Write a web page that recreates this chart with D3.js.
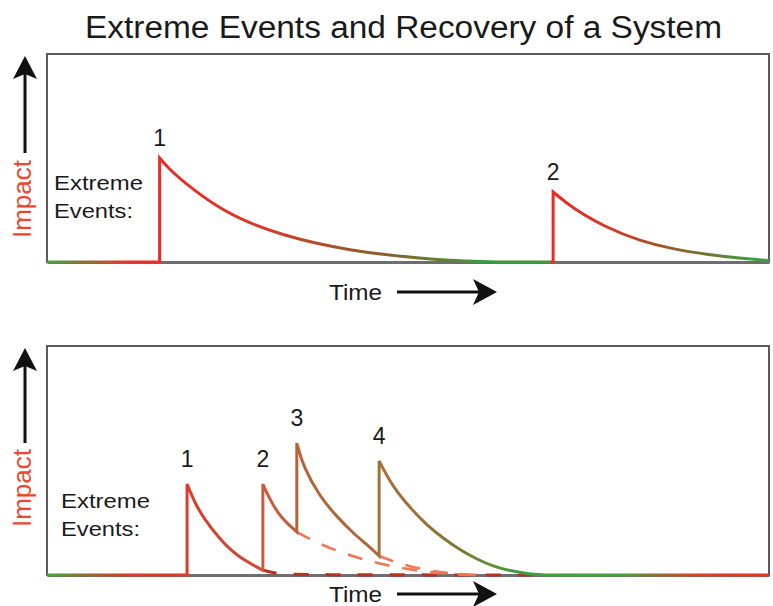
<!DOCTYPE html>
<html>
<head>
<meta charset="utf-8">
<script src="https://cdn.jsdelivr.net/npm/d3@7"></script>
<style>
  html, body { margin: 0; padding: 0; background: #fff; }
  svg { display: block; font-family: "Liberation Sans", Arial, Helvetica, sans-serif; }
</style>
</head>
<body>
<svg id="chart" width="773" height="606"></svg>
<script>
// ---------------- DATA (time 0..100, impact 0..100) ----------------
const title = "Extreme Events and Recovery of a System";
const axisLabelY = "Impact";
const axisLabelX = "Time";
const eventsLabel = ["Extreme", "Events:"];

// Top panel: two isolated events, each with its recovery (decay) curve
const topEventLabels = ["1", "2"];
const topDecays = [
  [[15.6, 50], [17.0, 44.5], [18.8, 38.8], [23.5, 26.4], [28.1, 18.5], [32.7, 13], [37.4, 8.8],
   [42.0, 5.8], [46.5, 3.6], [51.2, 2.0], [55.8, 0.8], [60.4, 0.1], [63, 0]],
  [[70.1, 33.7], [72.9, 25.5], [77.6, 16.3], [82.1, 10.2], [86.7, 6.2], [91.4, 3.6], [96.0, 1.8], [100, 0.7]]
];

// Bottom panel: four clustered events
const bottomEventLabels = ["1", "2", "3", "4"];
const bottomDecays = [
  [[19.4, 39.7], [20.5, 31.4], [21.6, 25.3], [24.0, 15.3], [26.3, 8.2], [29.8, 2.2]],
  [[29.9, 39.7], [30.9, 32.8], [32.3, 25.3], [34.6, 18.8]],
  [[34.6, 57.6], [35.5, 47.2], [37.8, 34.1], [40.2, 25.3], [42.4, 18.3], [44.7, 12.2], [46.0, 8.3]],
  [[46.0, 49.8], [47.9, 38.4], [50.3, 29.3], [52.6, 21.8], [54.8, 16.2], [57.2, 10.9], [59.6, 6.8],
   [61.8, 3.8], [64.1, 1.8], [66.5, 0.6], [69.0, 0]]
];
// What would have happened without the following event (dashed)
const bottomGhostBase = [[29.8, 2.2], [31.6, 0.7], [33.7, 0], [69.0, 0]];
const bottomGhost2 = [[34.6, 18.8], [37.4, 14], [40.6, 10], [44.0, 6.6], [47.5, 3.9], [51.7, 1.7], [55.8, 0.4], [58, 0]];
const bottomGhost3 = [[46.0, 8.3], [48.9, 4.8], [53.0, 1.7], [57.2, 0.3], [60, 0]];

// Colour along time (impact colour: green = recovered, red = impacted)
const topColorStops = [
  [0, "#3fa83f"], [6, "#9a6a30"], [11, "#e0382a"], [15.6, "#ee2a24"], [30, "#d83a28"],
  [40, "#a8522a"], [47, "#86602c"], [53, "#6a7a30"], [60, "#3c9a3c"], [69.6, "#3c9a3c"],
  [69.8, "#ee2a24"], [79, "#d03a28"], [86, "#9a5a2a"], [92, "#6a7a30"], [98, "#3ea03e"], [100, "#3ea03e"]
];
const bottomColorStops = [
  [0, "#3fa83f"], [6, "#9a6a30"], [11, "#dc3a2a"], [19.4, "#de3a2a"], [29.5, "#d04a32"],
  [29.7, "#cc5a3c"], [34.3, "#c25c3a"], [34.5, "#b8623a"], [45.7, "#aa6a38"], [45.9, "#a6703c"],
  [52, "#9a7036"], [57, "#7e7c34"], [62, "#5a9038"], [67, "#3da040"], [80, "#48a040"],
  [85, "#9a6a30"], [90.4, "#d84028"], [100, "#e83020"]
];

// ---------------- DRAW ----------------
const svg = d3.select("#chart");

svg.append("text")
  .attr("x", 85).attr("y", 38)
  .attr("font-size", 31).attr("fill", "#1a1a1a")
  .attr("textLength", 637).attr("lengthAdjust", "spacingAndGlyphs")
  .text(title);

const defs = svg.append("defs");

function arrowUp(g, x, yTip, yEnd) {
  g.append("line").attr("x1", x).attr("x2", x).attr("y1", yTip + 16).attr("y2", yEnd)
    .attr("stroke", "#111").attr("stroke-width", 3);
  g.append("path")
    .attr("d", `M${x},${yTip} L${x - 12},${yTip + 23} L${x},${yTip + 18} L${x + 12},${yTip + 23} Z`)
    .attr("fill", "#111");
}
function arrowRight(g, xStart, xTip, y) {
  g.append("line").attr("x1", xStart).attr("x2", xTip - 16).attr("y1", y).attr("y2", y)
    .attr("stroke", "#111").attr("stroke-width", 3);
  g.append("path")
    .attr("d", `M${xTip},${y} L${xTip - 24},${y - 13} L${xTip - 18},${y} L${xTip - 24},${y + 13} Z`)
    .attr("fill", "#111");
}

function panel(cfg) {
  const g = svg.append("g");
  const x = d3.scaleLinear().domain([0, 100]).range([cfg.left, cfg.right]);
  const y = d3.scaleLinear().domain([0, 100]).range([cfg.bottom, cfg.top]);

  // frame
  g.append("rect")
    .attr("x", cfg.left).attr("y", cfg.top)
    .attr("width", cfg.right - cfg.left).attr("height", cfg.bottom - cfg.top)
    .attr("fill", "none").attr("stroke", "#5a5a5a").attr("stroke-width", 2);
  // baseline axis (no ticks)
  const ax = g.append("g").attr("transform", `translate(0,${cfg.bottom})`)
    .call(d3.axisBottom(x).tickValues([]).tickSizeOuter(0));
  ax.select(".domain").attr("stroke", "#6e6e6e").attr("stroke-width", 3);

  // gradient along time
  const gid = "grad" + cfg.id;
  const grad = defs.append("linearGradient").attr("id", gid)
    .attr("gradientUnits", "userSpaceOnUse")
    .attr("x1", x(0)).attr("x2", x(100)).attr("y1", 0).attr("y2", 0);
  cfg.colorStops.forEach(s => grad.append("stop").attr("offset", s[0] / 100).attr("stop-color", s[1]));

  const smooth = d3.line().x(d => x(d[0])).y(d => y(d[1])).curve(d3.curveBasis);

  // ghost (dashed) curves
  (cfg.ghosts || []).forEach(gh => {
    g.append("path").attr("d", smooth(gh.data))
      .attr("fill", "none").attr("stroke", gh.color).attr("stroke-width", gh.width)
      .attr("stroke-dasharray", gh.dash);
  });

  // main impact path: baseline, jumps, decays
  let d = `M${x(0)},${y(0)}`;
  let prev = 0;
  cfg.decays.forEach(dec => {
    d += `L${x(dec[0][0])},${y(prev)}`;
    d += smooth(dec).replace(/^M/, "L");
    prev = dec[dec.length - 1][1];
  });
  d += `L${x(100)},${y(prev)}`;
  g.append("path").attr("d", d)
    .attr("fill", "none").attr("stroke", `url(#${gid})`).attr("stroke-width", 3)
    .attr("stroke-linejoin", "miter").attr("stroke-linecap", "butt");

  // event number labels
  cfg.decays.forEach((dec, i) => {
    g.append("text").attr("x", x(dec[0][0])).attr("y", y(dec[0][1]) - cfg.labelGap)
      .attr("text-anchor", "middle").attr("font-size", 23).attr("fill", "#1a1a1a")
      .text(cfg.labels[i]);
  });

  // "Extreme Events:"
  g.append("text").attr("x", cfg.evX).attr("y", cfg.evY).attr("font-size", 20).attr("fill", "#1a1a1a")
    .attr("textLength", 89).attr("lengthAdjust", "spacingAndGlyphs").text(eventsLabel[0]);
  g.append("text").attr("x", cfg.evX).attr("y", cfg.evY + 28).attr("font-size", 20).attr("fill", "#1a1a1a")
    .attr("textLength", 79).attr("lengthAdjust", "spacingAndGlyphs").text(eventsLabel[1]);

  // Impact axis label + arrow
  g.append("text").attr("transform", `translate(31,${cfg.impactY}) rotate(-90)`)
    .attr("text-anchor", "middle").attr("font-size", 25).attr("fill", "#ee4630")
    .attr("textLength", 78).attr("lengthAdjust", "spacingAndGlyphs").text(axisLabelY);
  arrowUp(g, 25, cfg.top + 2, cfg.arrowEnd);

  // Time label + arrow
  g.append("text").attr("x", 329).attr("y", cfg.timeY).attr("font-size", 22).attr("fill", "#1a1a1a")
    .attr("textLength", 53).attr("lengthAdjust", "spacingAndGlyphs").text(axisLabelX);
  arrowRight(g, 397, 497, cfg.timeY - 8);
}

panel({
  id: "top", left: 47, right: 769, top: 54, bottom: 262,
  decays: topDecays, labels: topEventLabels, colorStops: topColorStops, labelGap: 12,
  evX: 54, evY: 190, impactY: 199, arrowEnd: 153, timeY: 300
});

panel({
  id: "bot", left: 47, right: 769, top: 346, bottom: 575,
  decays: bottomDecays, labels: bottomEventLabels, colorStops: bottomColorStops, labelGap: 17,
  evX: 61, evY: 508, impactY: 488, arrowEnd: 443, timeY: 602,
  ghosts: [
    { data: bottomGhostBase, color: "#b83222", dash: "15,17", width: 3.2 },
    { data: bottomGhost2, color: "#f47454", dash: "15,13", width: 2.6 },
    { data: bottomGhost3, color: "#f47454", dash: "15,13", width: 2.6 }
  ]
});
</script>
</body>
</html>
